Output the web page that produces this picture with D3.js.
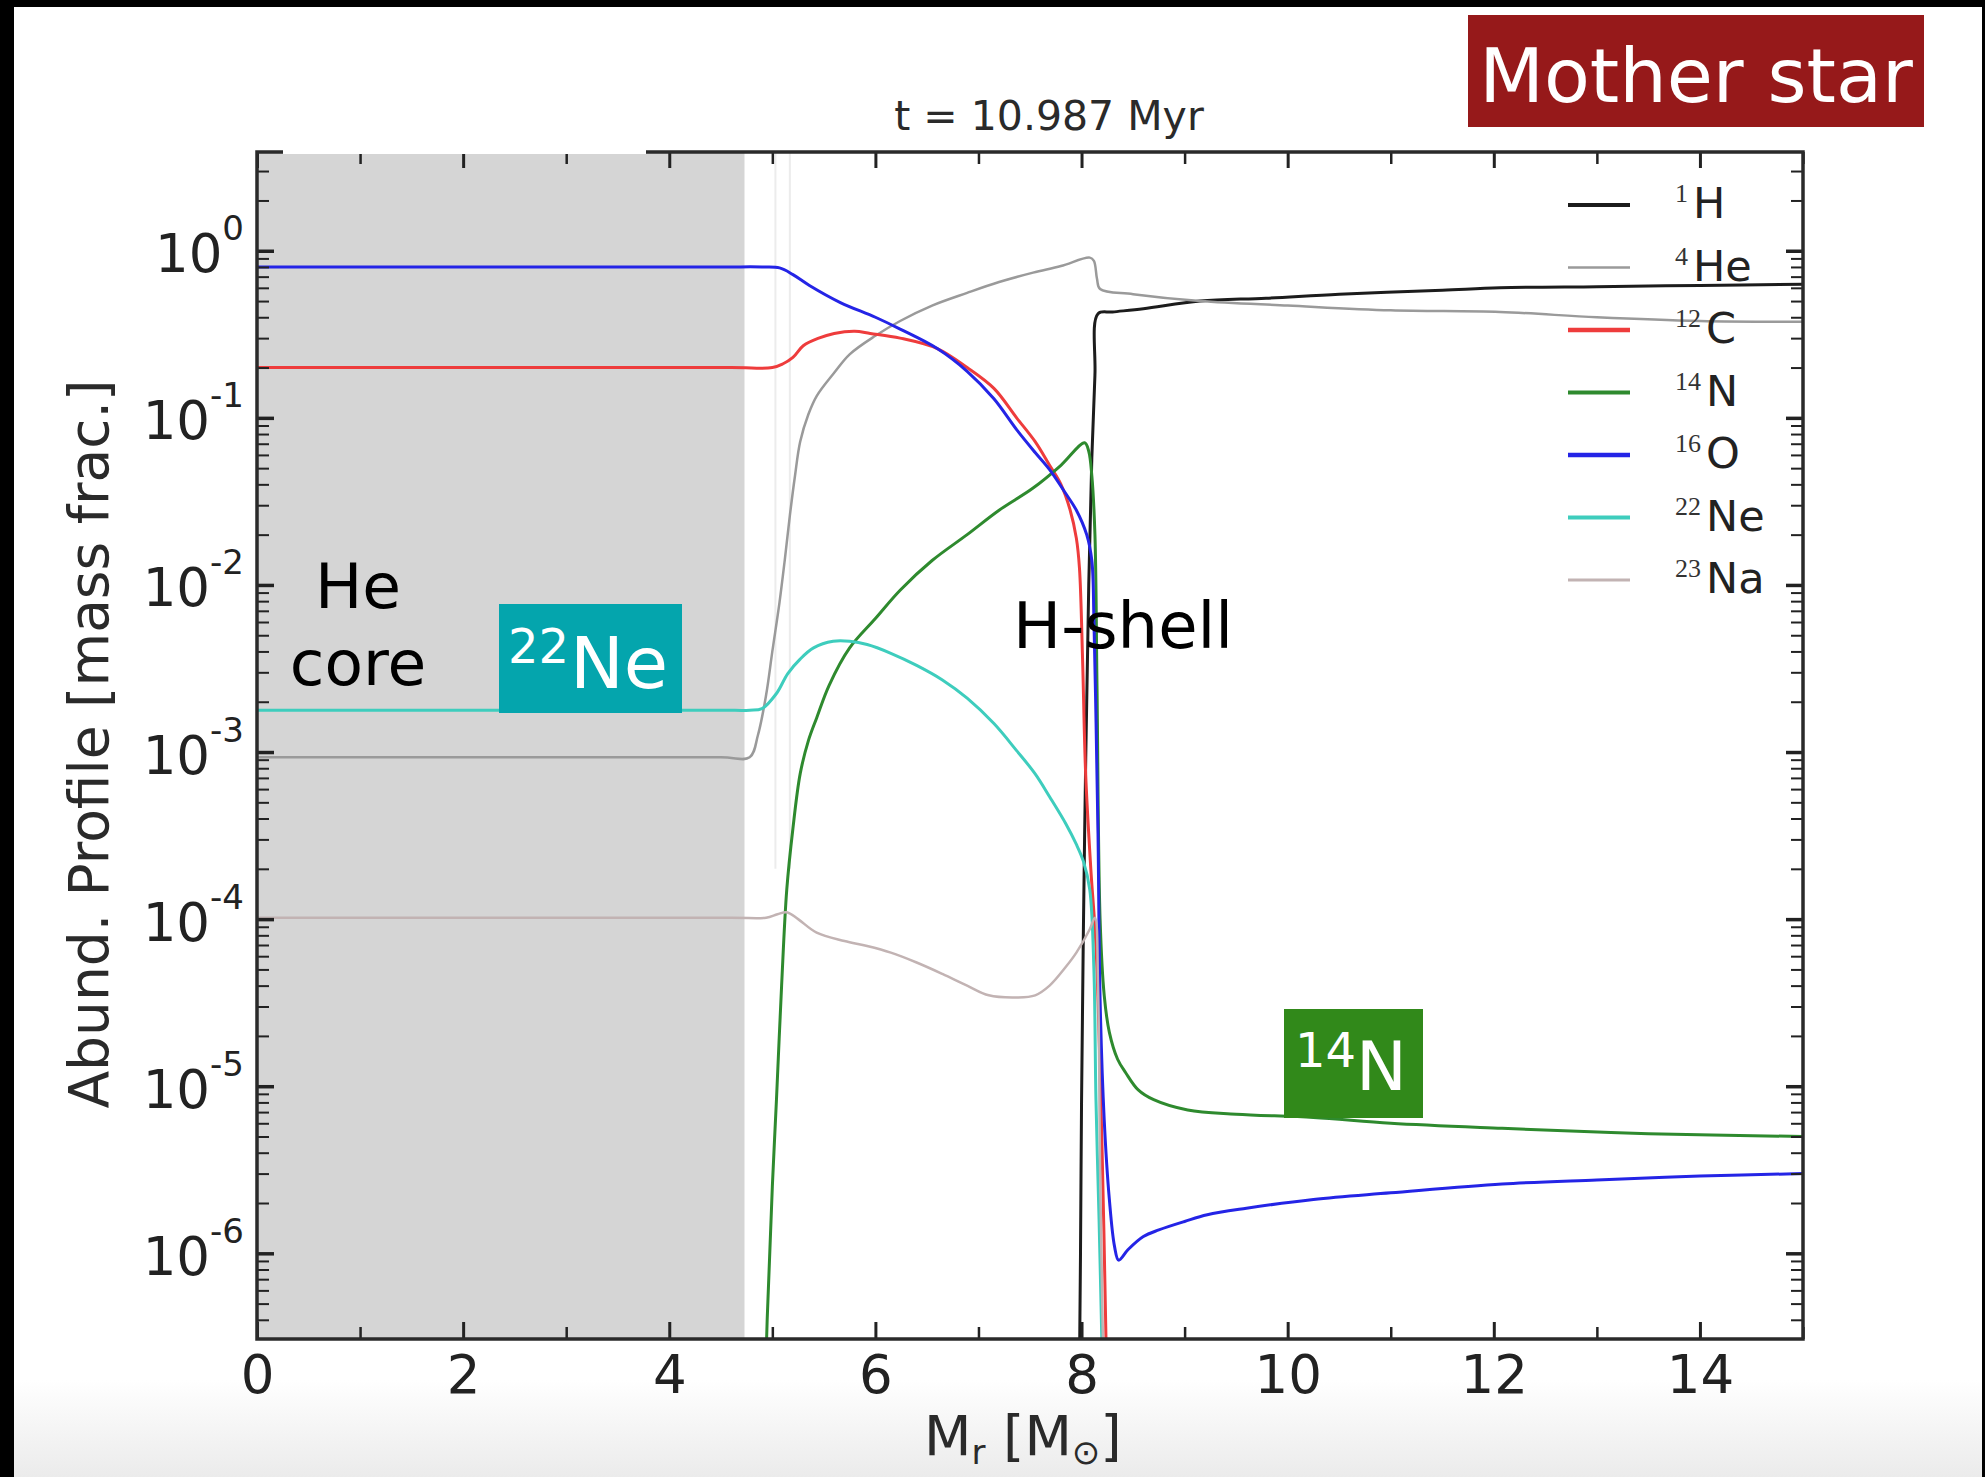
<!DOCTYPE html>
<meta charset="utf-8" />
<style>
  body {
    margin: 0px;
    padding: 0px;
    background: #fff;
  }
  svg {
    display: block;
  }
  text {
    font-family: "DejaVu Sans", Verdana, sans-serif;
  }
</style>

<svg width="1985" height="1477"></svg>

<script src="https://d3js.org/d3.v7.min.js"></script>
<script>
  // abundance profile: mass coordinate [Msun] -> mass fraction
  const massH1 = [7.96, 7.99, 8.0, 8.03, 8.07, 8.1, 8.13, 8.16, 8.3, 8.6, 9.15, 9.79, 10.5, 11.5, 12.06, 13.0, 14.0, 15.0];
  const fracH1 = [1e-8, 1.0e-6, 7.9e-6, 3.2e-4, 0.01, 0.058, 0.18, 0.42, 0.43, 0.45, 0.5, 0.52, 0.55, 0.58, 0.6, 0.61, 0.62, 0.63];

  const massHe4 = [0, 4.5, 4.78, 4.86, 4.94, 5.0, 5.07, 5.12, 5.17, 5.22, 5.27, 5.35, 5.43, 5.6, 5.75, 6.0, 6.24, 6.55, 6.89, 7.2, 7.53, 7.8, 8.08, 8.12, 8.15, 8.18, 8.5, 9.15, 10.0, 11.0, 12.06, 13.0, 14.0, 15.0];
  const fracHe4 = [9.3e-4, 9.3e-4, 9.3e-4, 1.26e-3, 2.2e-3, 4.0e-3, 7.9e-3, 0.014, 0.026, 0.045, 0.072, 0.105, 0.135, 0.186, 0.24, 0.31, 0.38, 0.47, 0.56, 0.65, 0.74, 0.81, 0.91, 0.87, 0.68, 0.59, 0.55, 0.5, 0.47, 0.44, 0.43, 0.4, 0.38, 0.376];

  const massC12 = [0, 4.6, 5.0, 5.1, 5.2, 5.3, 5.45, 5.6, 5.8, 5.95, 6.24, 6.6, 6.89, 7.15, 7.37, 7.55, 7.69, 7.8, 7.89, 7.95, 7.98, 8.01, 8.04, 8.09, 8.14, 8.2, 8.24];
  const fracC12 = [0.2, 0.2, 0.2, 0.21, 0.23, 0.27, 0.3, 0.32, 0.33, 0.32, 0.3, 0.26, 0.2, 0.15, 0.1, 0.072, 0.052, 0.04, 0.028, 0.019, 0.0126, 3.6e-3, 7.4e-4, 2.0e-4, 6.9e-5, 4.0e-6, 2.5e-7];

  const massN14 = [4.9, 4.95, 5.0, 5.04, 5.09, 5.14, 5.2, 5.27, 5.35, 5.43, 5.55, 5.75, 6.0, 6.24, 6.55, 6.89, 7.2, 7.53, 7.8, 8.03, 8.07, 8.1, 8.13, 8.15, 8.18, 8.22, 8.27, 8.35, 8.43, 8.55, 8.7, 9.03, 9.5, 10.25, 11.0, 12.08, 13.5, 15.0];
  const fracN14 = [3.2e-8, 4.0e-7, 2.5e-6, 8.3e-6, 4.0e-5, 1.5e-4, 3.5e-4, 7.4e-4, 1.17e-3, 1.6e-3, 2.5e-3, 4.2e-3, 6.3e-3, 9.3e-3, 0.014, 0.02, 0.028, 0.038, 0.052, 0.071, 0.063, 0.045, 0.02, 2.5e-3, 1.0e-4, 3.5e-5, 2.1e-5, 1.45e-5, 1.2e-5, 9.5e-6, 8.3e-6, 7.2e-6, 6.8e-6, 6.5e-6, 6.0e-6, 5.6e-6, 5.2e-6, 5.0e-6];

  const massO16 = [0, 4.5, 4.9, 5.07, 5.2, 5.36, 5.66, 6.0, 6.24, 6.6, 6.89, 7.15, 7.37, 7.55, 7.69, 7.85, 7.95, 8.05, 8.1, 8.12, 8.14, 8.16, 8.18, 8.22, 8.27, 8.32, 8.36, 8.45, 8.6, 8.75, 9.0, 9.22, 9.6, 10.25, 11.0, 12.08, 13.0, 14.0, 15.0];
  const fracO16 = [0.8, 0.8, 0.8, 0.79, 0.72, 0.62, 0.49, 0.4, 0.34, 0.26, 0.19, 0.13, 0.085, 0.062, 0.049, 0.035, 0.028, 0.02, 0.014, 6.3e-3, 1.6e-3, 3.2e-4, 3.3e-5, 6.3e-6, 2.1e-6, 1.1e-6, 9.1e-7, 1.05e-6, 1.26e-6, 1.38e-6, 1.55e-6, 1.7e-6, 1.86e-6, 2.1e-6, 2.3e-6, 2.6e-6, 2.75e-6, 2.9e-6, 3.0e-6];

  const massNe22 = [0, 4.5, 4.78, 4.9, 5.04, 5.15, 5.27, 5.4, 5.59, 5.75, 5.92, 6.15, 6.4, 6.65, 6.89, 7.15, 7.37, 7.55, 7.69, 7.85, 7.95, 8.02, 8.08, 8.12, 8.14, 8.17, 8.2];
  const fracNe22 = [1.78e-3, 1.78e-3, 1.78e-3, 1.82e-3, 2.24e-3, 2.95e-3, 3.6e-3, 4.2e-3, 4.6e-3, 4.6e-3, 4.4e-3, 3.9e-3, 3.3e-3, 2.7e-3, 2.1e-3, 1.48e-3, 1.02e-3, 7.4e-4, 5.4e-4, 3.7e-4, 2.8e-4, 2.2e-4, 1.5e-4, 5.0e-5, 8.3e-6, 1.6e-6, 2.5e-7];

  const massNa23 = [0, 4.6, 4.94, 5.05, 5.14, 5.25, 5.43, 5.7, 5.92, 6.15, 6.4, 6.65, 6.89, 7.1, 7.37, 7.55, 7.69, 7.85, 7.95, 8.08, 8.13, 8.16, 8.18, 8.21];
  const fracNa23 = [1.02e-4, 1.02e-4, 1.02e-4, 1.07e-4, 1.1e-4, 1.0e-4, 8.3e-5, 7.4e-5, 6.9e-5, 6.3e-5, 5.5e-5, 4.7e-5, 4.0e-5, 3.5e-5, 3.4e-5, 3.5e-5, 4.0e-5, 5.2e-5, 6.3e-5, 8.7e-5, 1.02e-4, 4.0e-5, 3.2e-6, 2.5e-7];

  const massNumbers = ["1", "4", "12", "14", "16", "22", "23"];
  const elements = ["H", "He", "C", "N", "O", "Ne", "Na"];

  const heCoreEdge = 4.73; // shaded He core, Msun
  const xMajor = [0, 2, 4, 6, 8, 10, 12, 14];
  const xMinor = [1, 3, 5, 7, 9, 11, 13, 15];
  const yDecades = [1, 1e-1, 1e-2, 1e-3, 1e-4, 1e-5, 1e-6];

  const series = [
    { mass: massH1, frac: fracH1, color: "#1c1c1c", w: 3, lw: 4 },
    { mass: massHe4, frac: fracHe4, color: "#9a9a9a", w: 2.5, lw: 2.5 },
    { mass: massC12, frac: fracC12, color: "#ee3c3c", w: 3, lw: 4.5 },
    { mass: massN14, frac: fracN14, color: "#2e8a2e", w: 3, lw: 4 },
    { mass: massO16, frac: fracO16, color: "#2424e6", w: 3, lw: 4.5 },
    { mass: massNe22, frac: fracNe22, color: "#3ecdbd", w: 3, lw: 4 },
    { mass: massNa23, frac: fracNa23, color: "#c2b3b3", w: 2.5, lw: 3 },
  ].map((s, i) => ({
    ...s,
    sup: massNumbers[i],
    el: elements[i],
    points: s.mass.map((m, j) => [m, s.frac[j]]),
  }));

  const svg = d3.select("svg"),
    width = +svg.attr("width"),
    height = +svg.attr("height");

  const plot = { left: 257, right: 1803, top: 152, bottom: 1339 };

  const x = d3.scaleLinear().domain([0, 15]).range([plot.left, plot.right]);
  const y = d3.scaleLog().domain([3.07e-7, 3.9]).range([plot.bottom, plot.top]);

  // page background: black edges, grey fade at the bottom
  const defs = svg.append("defs");
  const grad = defs.append("linearGradient").attr("id", "fade").attr("x1", 0).attr("x2", 0).attr("y1", 0).attr("y2", 1);
  grad.append("stop").attr("offset", "0%").attr("stop-color", "#ffffff");
  grad.append("stop").attr("offset", "100%").attr("stop-color", "#ebebeb");
  defs.append("clipPath").attr("id", "clip").append("rect")
    .attr("x", plot.left).attr("y", plot.top)
    .attr("width", plot.right - plot.left).attr("height", plot.bottom - plot.top);

  svg.append("rect").attr("width", width).attr("height", height).attr("fill", "#fff");
  svg.append("rect").attr("y", 1380).attr("width", width).attr("height", height - 1380).attr("fill", "url(#fade)");
  svg.append("rect").attr("width", width).attr("height", 7).attr("fill", "#000");
  svg.append("rect").attr("width", 14).attr("height", height).attr("fill", "#000");
  svg.append("rect").attr("x", 1982).attr("width", 3).attr("height", height).attr("fill", "#000");

  // He core shading
  svg.append("rect")
    .attr("x", x(0)).attr("y", plot.top)
    .attr("width", x(heCoreEdge) - x(0)).attr("height", plot.bottom - plot.top)
    .attr("fill", "#d5d5d5");

  // faint ghost verticals near the core edge
  svg.append("g").selectAll("line").data([5.03, 5.17]).enter().append("line")
    .attr("x1", (d) => x(d)).attr("x2", (d) => x(d))
    .attr("y1", plot.top).attr("y2", y(2e-4))
    .attr("stroke", "#ececec").attr("stroke-width", 2);

  const line = d3.line()
    .x((d) => x(d[0]))
    .y((d) => y(d[1]))
    .curve(d3.curveCatmullRom.alpha(0.5));

  svg.append("g").attr("clip-path", "url(#clip)")
    .selectAll("path").data(series).enter().append("path")
    .attr("d", (d) => line(d.points))
    .attr("fill", "none")
    .attr("stroke", (d) => d.color)
    .attr("stroke-width", (d) => d.w)
    .attr("stroke-linejoin", "round");

  // frame with inward ticks on all four sides
  const tickStyle = (g, w) => {
    g.select(".domain").remove();
    g.selectAll(".tick line").attr("stroke", "#222").attr("stroke-width", w);
    g.selectAll(".tick text").attr("fill", "#222");
  };

  const yMinor = [];
  for (let e = -7; e <= 0; e++) {
    for (let k = 2; k <= 9; k++) {
      const v = k * Math.pow(10, e);
      if (v > y.domain()[0] && v < y.domain()[1]) yMinor.push(v);
    }
  }

  svg.append("g").attr("transform", `translate(0,${plot.bottom})`)
    .call(d3.axisBottom(x).tickValues(xMajor).tickSize(-17).tickPadding(16).tickFormat(d3.format("d")))
    .call((g) => tickStyle(g, 3))
    .call((g) => g.selectAll(".tick text").style("font-size", "53px").style("font-family", "DejaVu Sans"));
  svg.append("g").attr("transform", `translate(0,${plot.bottom})`)
    .call(d3.axisBottom(x).tickValues(xMinor).tickSize(-12).tickFormat(""))
    .call((g) => tickStyle(g, 2.5));
  svg.append("g").attr("transform", `translate(0,${plot.top})`)
    .call(d3.axisTop(x).tickValues(xMajor).tickSize(-16).tickFormat(""))
    .call((g) => tickStyle(g, 3));
  svg.append("g").attr("transform", `translate(0,${plot.top})`)
    .call(d3.axisTop(x).tickValues(xMinor).tickSize(-12).tickFormat(""))
    .call((g) => tickStyle(g, 2.5));

  const yAxisG = svg.append("g").attr("transform", `translate(${plot.left},0)`)
    .call(d3.axisLeft(y).tickValues(yDecades).tickSize(-17).tickPadding(13))
    .call((g) => tickStyle(g, 3.5));
  yAxisG.selectAll(".tick text").each(function (d) {
    const t = d3.select(this).text(null).attr("dy", "21px").style("font-size", "53px").style("font-family", "DejaVu Sans");
    t.append("tspan").text("10");
    t.append("tspan").attr("dy", -32).style("font-size", "34px").text(Math.round(Math.log10(d)));
  });
  svg.append("g").attr("transform", `translate(${plot.left},0)`)
    .call(d3.axisLeft(y).tickValues(yMinor).tickSize(-12).tickFormat(""))
    .call((g) => tickStyle(g, 2));
  svg.append("g").attr("transform", `translate(${plot.right},0)`)
    .call(d3.axisRight(y).tickValues(yDecades).tickSize(-17).tickFormat(""))
    .call((g) => tickStyle(g, 3.5));
  svg.append("g").attr("transform", `translate(${plot.right},0)`)
    .call(d3.axisRight(y).tickValues(yMinor).tickSize(-12).tickFormat(""))
    .call((g) => tickStyle(g, 2));

  svg.append("rect")
    .attr("x", plot.left).attr("y", plot.top)
    .attr("width", plot.right - plot.left).attr("height", plot.bottom - plot.top)
    .attr("fill", "none").attr("stroke", "#2a2a2a").attr("stroke-width", 3.5);

  // white patch pasted over part of the top frame in the slide
  svg.append("rect").attr("x", 283).attr("y", 75).attr("width", 363).attr("height", 79).attr("fill", "#fff");

  // title and axis labels
  svg.append("text")
    .attr("x", 1049).attr("y", 130).attr("text-anchor", "middle")
    .style("font-size", "41px").attr("fill", "#2a2a2a")
    .text("t = 10.987 Myr");

  svg.append("text")
    .attr("transform", "translate(108,744) rotate(-90)")
    .attr("text-anchor", "middle")
    .style("font-size", "55px").attr("fill", "#2a2a2a")
    .text("Abund. Profile [mass frac.]");

  const xl = svg.append("text").attr("x", 924).attr("y", 1455).style("font-size", "55px").attr("fill", "#2a2a2a");
  xl.append("tspan").text("M");
  xl.append("tspan").attr("dy", 9).style("font-size", "34px").text("r");
  xl.append("tspan").attr("dy", -9).text(" [M");
  xl.append("tspan").attr("dy", 9).style("font-size", "34px").text("⊙");
  xl.append("tspan").attr("dy", -9).text("]");

  // legend
  const legend = svg.append("g").selectAll("g").data(series).enter().append("g")
    .attr("transform", (d, i) => `translate(0,${205 + i * 62.5})`);
  legend.append("line")
    .attr("x1", 1568).attr("x2", 1630)
    .attr("stroke", (d) => d.color).attr("stroke-width", (d) => d.lw);
  const lt = legend.append("text").attr("x", 1675);
  lt.append("tspan").attr("y", -3)
    .style("font-family", "'Liberation Serif', serif").style("font-size", "26px").attr("fill", "#333")
    .text((d) => d.sup);
  lt.append("tspan").attr("y", 13).attr("dx", 5)
    .style("font-size", "43px").attr("fill", "#222")
    .text((d) => d.el);

  // slide annotations
  svg.append("text").attr("x", 358).attr("y", 608).attr("text-anchor", "middle").style("font-size", "63px").text("He");
  svg.append("text").attr("x", 358).attr("y", 685).attr("text-anchor", "middle").style("font-size", "63px").text("core");

  svg.append("rect").attr("x", 499).attr("y", 604).attr("width", 183).attr("height", 109).attr("fill", "#04a5ad");
  svg.append("text").attr("x", 508).attr("y", 663).attr("fill", "#fff").style("font-size", "48px").text("22");
  svg.append("text").attr("x", 570).attr("y", 688).attr("fill", "#fff").style("font-size", "72px").text("Ne");

  svg.append("text").attr("x", 1013).attr("y", 648).style("font-size", "64px").attr("fill", "#000").text("H-shell");

  svg.append("rect").attr("x", 1284).attr("y", 1009).attr("width", 139).attr("height", 109).attr("fill", "#31891a");
  svg.append("text").attr("x", 1295).attr("y", 1067).attr("fill", "#fff").style("font-size", "48px").text("14");
  svg.append("text").attr("x", 1356).attr("y", 1090).attr("fill", "#fff").style("font-size", "68px").text("N");

  svg.append("rect").attr("x", 1468).attr("y", 15).attr("width", 456).attr("height", 112).attr("fill", "#96191a");
  svg.append("text").attr("x", 1696).attr("y", 102).attr("text-anchor", "middle")
    .attr("fill", "#fff").style("font-size", "75px").text("Mother star");
</script>
